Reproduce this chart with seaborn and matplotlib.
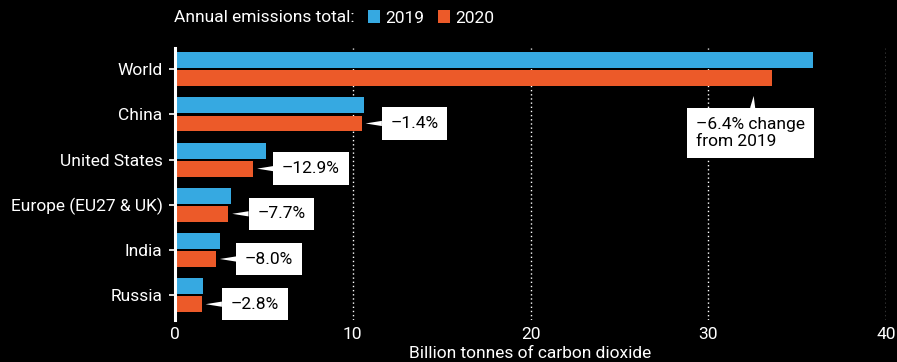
import pandas as pd
import matplotlib
matplotlib.use('Agg')
import matplotlib.pyplot as plt
import seaborn as sns

# data
regions = ['World', 'China', 'United States', 'Europe (EU27 & UK)', 'India', 'Russia']
emissions_2019 = [35.9, 10.65, 5.1, 3.15, 2.55, 1.6]
emissions_2020 = [33.6, 10.5, 4.4, 3.0, 2.3, 1.5]
change_labels = ['–6.4% change\nfrom 2019', '–1.4%', '–12.9%', '–7.7%', '–8.0%', '–2.8%']
years = ['2019', '2020']
colors = ['#36a9e1', '#ec5a29']

sns.set_style('dark')
plt.rcParams['font.family'] = ['Roboto', 'DejaVu Sans']
plt.rcParams['font.size'] = 12.5

df = pd.DataFrame({
    'region': regions * 2,
    'value': emissions_2019 + emissions_2020,
    'year': [years[0]] * len(regions) + [years[1]] * len(regions),
})

fig = plt.figure(figsize=(8.97, 3.62), dpi=100, facecolor='black')
ax = fig.add_axes([175 / 897, 1 - 320 / 362, (886 - 175) / 897, (320 - 48) / 362])
ax.set_facecolor('black')

sns.barplot(data=df, y='region', x='value', hue='year', orient='h',
            palette=colors, saturation=1, width=0.8, gap=0.12,
            linewidth=0, edgecolor='none', ax=ax)

ax.set_xlim(0, 40)
ax.set_ylim(5.55, -0.47)
ax.set_xticks([0, 10, 20, 30, 40])
ax.set_xlabel('Billion tonnes of carbon dioxide', color='white', fontsize=12.5, labelpad=3)
ax.set_ylabel('')
ax.tick_params(axis='x', colors='white', length=0, pad=5, labelsize=12.5)
ax.tick_params(axis='y', colors='white', length=4, width=1.2, pad=5, labelsize=12.5, left=True)
for lbl in ax.get_xticklabels() + ax.get_yticklabels():
    lbl.set_color('white')

for s in ['top', 'right', 'bottom']:
    ax.spines[s].set_visible(False)
ax.spines['left'].set_color('white')
ax.spines['left'].set_linewidth(2.2)
ax.spines['left'].set_visible(True)

ax.grid(False)
for x in [10, 20, 30, 40]:
    ax.axvline(x, color='white', linestyle=(0, (1, 2)), linewidth=1, zorder=0)

# legend on top
handles, labels = ax.get_legend_handles_labels()
ax.get_legend().remove()
fig.text(174 / 897, 1 - 18 / 362, 'Annual emissions total:', color='white',
         fontsize=12.5, va='center', ha='left')
leg = fig.legend(handles, labels, loc='center left', bbox_to_anchor=(368 / 897, 1 - 18 / 362),
                 ncol=2, frameon=False, fontsize=12.5, handlelength=0.7, handleheight=0.7,
                 handletextpad=0.3, columnspacing=0.8, borderaxespad=0, borderpad=0)
for t in leg.get_texts():
    t.set_color('white')
for h in leg.legend_handles:
    h.set_edgecolor('none')

# callouts next to the 2020 bars
bars_2020 = ax.containers[1]
for i, (bar, label) in enumerate(zip(bars_2020, change_labels)):
    end = bar.get_x() + bar.get_width()
    yc = bar.get_y() + bar.get_height() / 2
    box = dict(boxstyle='square,pad=0.5', fc='white', ec='none')
    wedge = dict(arrowstyle='wedge,tail_width=0.3', fc='white', ec='none',
                 shrinkA=0, shrinkB=0)
    if i == 0:
        bottom = bar.get_y() + bar.get_height()
        ax.annotate(label, xy=(end - 1.0, bottom), xytext=(-42, -22),
                    textcoords='offset points', ha='left', va='top',
                    color='black', fontsize=12.5, bbox=box,
                    arrowprops=dict(wedge, shrinkB=7))
    else:
        ax.annotate(label, xy=(end + 0.22, yc), xytext=(18, 0),
                    textcoords='offset points', ha='left', va='center',
                    color='black', fontsize=12.5, bbox=box, arrowprops=wedge)

plt.savefig('out.png', dpi=100, facecolor='black')
